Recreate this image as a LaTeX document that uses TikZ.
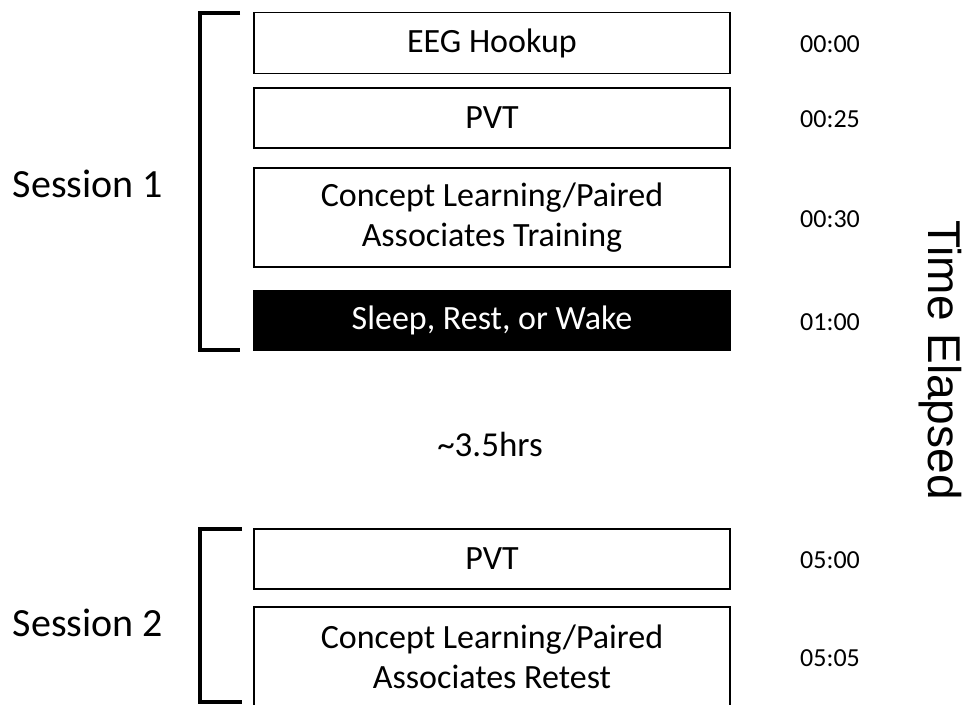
\documentclass[tikz,border=0pt]{standalone}
\usepackage{fontspec}
\setmainfont{Carlito}
\newfontfamily\arialfont{Liberation Sans}

\begin{document}
\begin{tikzpicture}[x=1pt,y=-1pt,
  stage/.style={draw=black, line width=1.4pt, minimum width=476pt, inner sep=0pt,
    align=center, font=\fontsize{34}{40}\selectfont},
  darkstage/.style={stage, fill=black, text=white},
  session/.style={anchor=base, font=\fontsize{40}{48}\selectfont},
  clock/.style={anchor=base, font=\fontsize{26}{30}\selectfont},
  gap/.style={anchor=base, font=\fontsize{35}{40}\selectfont},
  bracket/.style={line width=3.5pt, line cap=butt, line join=miter}]

\useasboundingbox (0,0) rectangle (965,704);

% Session 1 stages
\node[stage, minimum height=61pt] (eeg) at (492,43) {EEG Hookup};
\node[stage, minimum height=60pt] (pvt1) at (492,118) {PVT};
\node[stage, minimum height=99pt] (train) at (492,217.5) {Concept Learning/Paired\\Associates Training};
\node[darkstage, minimum height=59pt] (sleep) at (492,320.5) {Sleep, Rest, or Wake};

% Session 2 stages
\node[stage, minimum height=60pt] (pvt2) at (492,559) {PVT};
\node[stage, minimum height=99pt] (retest) at (492,656.5) {Concept Learning/Paired\\Associates Retest};

% Session brackets
\draw[bracket] (240,13) -- (200,13) -- (200,350) -- (240,350);
\draw[bracket] (242,529) -- (200,529) -- (200,702) -- (242,702);

\node[session] (s1) at (88,197) {Session 1};
\node[session] (s2) at (88,636) {Session 2};

% Elapsed times
\node[clock] (t1) at (830,52) {00:00};
\node[clock] (t2) at (830,127) {00:25};
\node[clock] (t3) at (830,227) {00:30};
\node[clock] (t4) at (830,330) {01:00};
\node[clock] (t5) at (830,568) {05:00};
\node[clock] (t6) at (830,666) {05:05};

\node[gap] (delay) at (490,456) {\char"7E\relax 3.5hrs};

\node[anchor=base west, rotate=-90, inner sep=0pt,
  font=\arialfont\fontsize{46}{50}\selectfont] (axis) at (928,220) {Time Elapsed};
\end{tikzpicture}
\end{document}
